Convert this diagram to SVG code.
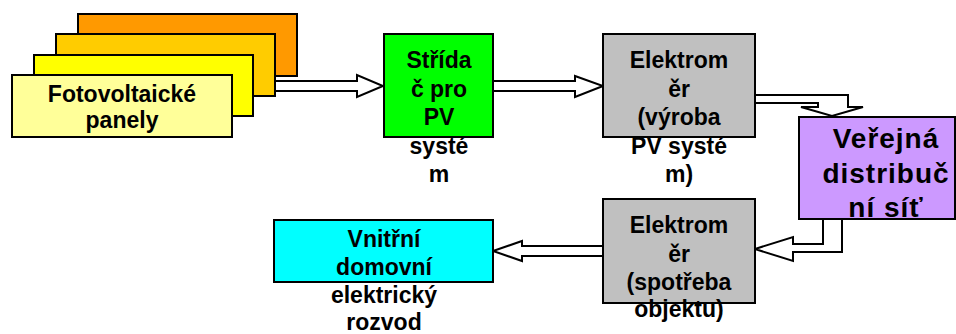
<svg xmlns="http://www.w3.org/2000/svg" width="956" height="334" viewBox="0 0 956 334">
<style>
.box{stroke:#000;stroke-width:2}
.arr{fill:#fff;stroke:#000;stroke-width:2;stroke-linejoin:miter}
text{font-family:"Liberation Sans",Arial,sans-serif;font-weight:bold;fill:#000;text-anchor:middle}
.t{font-size:23px}
.tb{font-size:28px;letter-spacing:1px}
</style>
<rect width="956" height="334" fill="#fff"/>
<g id="connectors">
<polygon class="arr" points="275,81 357,81 357,75 383,86 357,97 357,91 275,91"/>
<polygon class="arr" points="493,81 575,81 575,76 603,86 575,97 575,91 493,91"/>
<polygon class="arr" points="755,95 848,95 848,107 863,107 832,116 801,107 818,107 818,103 755,103"/>
<polygon class="arr" points="823,219 823,244 793,244 793,237 755,249 793,261 793,252 842,252 842,219"/>
<polygon class="arr" points="603,246 522,246 522,241 493,251 522,261 522,256 603,256"/>
</g>
<g id="panely">
<rect class="box" x="78" y="14" width="219" height="62" fill="#FF9900"/>
<rect class="box" x="56" y="34" width="219" height="62" fill="#FFCC00"/>
<rect class="box" x="34" y="55" width="219" height="61" fill="#FFFF00"/>
<rect class="box" x="12" y="75" width="220" height="62" fill="#FFFF99"/>
<text class="t" x="122" y="102">Fotovoltaické</text>
<text class="t" x="122" y="128">panely</text>
</g>
<g id="stridac">
<rect class="box" x="384" y="34" width="109" height="103" fill="#00FF00"/>
<text class="t" x="439" y="68">Střída</text>
<text class="t" x="439" y="97">č pro</text>
<text class="t" x="439" y="125">PV</text>
<text class="t" x="439" y="154">systé</text>
<text class="t" x="439" y="182">m</text>
</g>
<g id="elektromer-vyroba">
<rect class="box" x="603" y="34" width="152" height="103" fill="#C0C0C0"/>
<text class="t" x="679" y="68">Elektrom</text>
<text class="t" x="679" y="97">ěr</text>
<text class="t" x="679" y="125">(výroba</text>
<text class="t" x="679" y="154">PV systé</text>
<text class="t" x="679" y="182">m)</text>
</g>
<g id="verejna-sit">
<rect class="box" x="799" y="117" width="156" height="102" fill="#CC99FF"/>
<text class="tb" x="886" y="148">Veřejná</text>
<text class="tb" x="886" y="183">distribuč</text>
<text class="tb" x="886" y="217">ní síť</text>
</g>
<g id="elektromer-spotreba">
<rect class="box" x="603" y="199" width="152" height="104" fill="#C0C0C0"/>
<text class="t" x="679" y="233">Elektrom</text>
<text class="t" x="679" y="262">ěr</text>
<text class="t" x="679" y="290">(spotřeba</text>
<text class="t" x="679" y="317">objektu)</text>
</g>
<g id="vnitrni-rozvod">
<rect class="box" x="274" y="220" width="219" height="62" fill="#00FFFF"/>
<text class="t" x="384" y="247">Vnitřní</text>
<text class="t" x="384" y="275">domovní</text>
<text class="t" x="384" y="303">elektrický</text>
<text class="t" x="384" y="330">rozvod</text>
</g>
</svg>
